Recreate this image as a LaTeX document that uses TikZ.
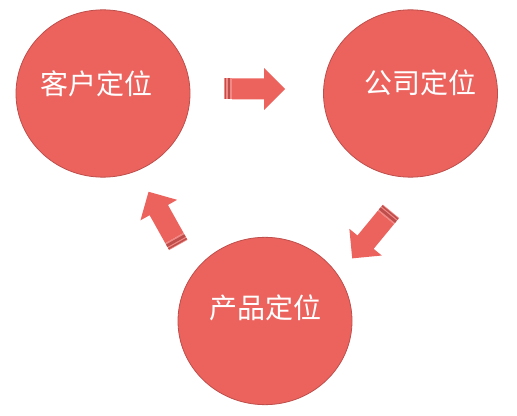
\documentclass[tikz,border=0pt]{standalone}
\usepackage{fontspec}
\newfontfamily\cjk{Noto Sans CJK SC}
\usetikzlibrary{shapes.geometric}

\definecolor{circfill}{RGB}{236,99,94}
\definecolor{circline}{RGB}{190,78,75}

\tikzset{every picture/.style={line width=0.75pt}}
\tikzset{
  bubble/.style={ellipse,draw=circline,fill=circfill,line width=0.6pt,minimum width=130.5pt,minimum height=125.5pt,inner sep=0pt},
  bubbletext/.style={inner sep=0.75pt,text=white,font=\cjk\fontsize{21}{25}\selectfont},
  stripearrow/.pic={
    \fill [circfill!75!white] (0,-10.5) rectangle (8,10.5) ;
    \fill [circline] (0.8,-10.5) rectangle (2.3,10.5) ;
    \fill [circline] (3.6,-10.5) rectangle (6.4,10.5) ;
    \fill [circfill] (8,-10.5) -- (40,-10.5) -- (40,-21) -- (61,0) -- (40,21) -- (40,10.5) -- (8,10.5) -- cycle ;
  }
}

\begin{document}
\begin{tikzpicture}[x=0.75pt,y=0.75pt,yscale=-1,xscale=1]
\path (0,0) rectangle (517,416); %set diagram size 517 x 416

%Circles
\node (kehu) at (103,93.5) [bubble] {};
\node (gongsi) at (410.5,93.5) [bubble] {};
\node (chanpin) at (265,321) [bubble] {};

% Text Node
\node (kehutext) at (96,83.5) [bubbletext] {客户定位};
% Text Node
\node (gongsitext) at (420,82.5) [bubbletext] {公司定位};
% Text Node
\node (chanpintext) at (265,307.5) [bubbletext] {产品定位};

%Striped Arrows
\pic at (224,89) {stripearrow};
\pic [rotate=-129.5] at (391,211.3) {stripearrow};
\pic [rotate=119.2] at (178.3,245) {stripearrow};

\end{tikzpicture}
\end{document}
